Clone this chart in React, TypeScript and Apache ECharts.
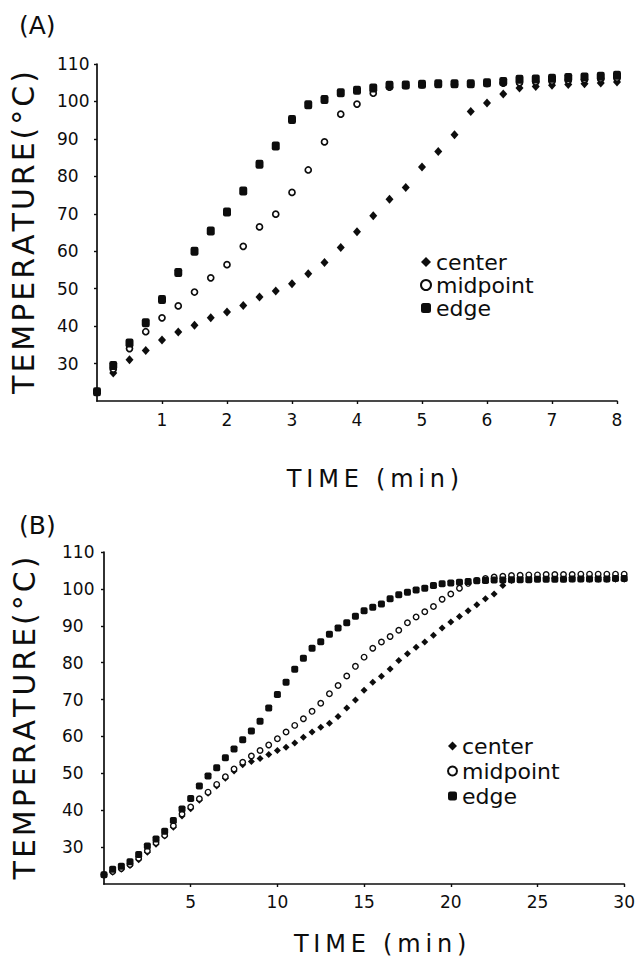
import React, { useEffect, useRef } from 'react';
import * as echarts from 'echarts';

// ---------- Panel (A) : 0–8 min, every 0.25 min ----------
const timeA = [0, 0.25, 0.5, 0.75, 1, 1.25, 1.5, 1.75, 2, 2.25, 2.5, 2.75, 3, 3.25, 3.5, 3.75, 4,
  4.25, 4.5, 4.75, 5, 5.25, 5.5, 5.75, 6, 6.25, 6.5, 6.75, 7, 7.25, 7.5, 7.75, 8];
const centerA = [22.5, 27.5, 31.0, 33.5, 36.3, 38.4, 40.2, 42.2, 43.8, 45.5, 47.8, 49.4, 51.3, 54.0, 57.0, 61.0, 65.2,
  69.5, 73.9, 77.0, 82.5, 86.6, 91.1, 97.3, 99.6, 102.0, 103.6, 104.0, 104.3, 104.5, 104.7, 104.9, 105.2];
const midpointA = [22.5, 28.5, 34.0, 38.5, 42.2, 45.4, 49.1, 52.9, 56.4, 61.3, 66.5, 69.9, 75.7, 81.7, 89.2, 96.6, 99.3,
  102.2, 103.8, 104.3, 104.5, 104.6, 104.6, 104.7, 104.8, 104.9, 105.0, 105.2, 105.4, 105.6, 105.8, 106.0, 106.2];
const edgeA = [22.5, 29.5, 35.5, 40.9, 47.1, 54.3, 60.0, 65.4, 70.5, 76.1, 83.2, 88.1, 95.2, 99.1, 100.5, 102.3, 103.0,
  103.6, 104.3, 104.4, 104.6, 104.7, 104.7, 104.7, 105.0, 105.3, 105.9, 106.0, 106.2, 106.4, 106.5, 106.7, 107.0];

// ---------- Panel (B) : 0–30 min, every 0.5 min ----------
const timeB = [0, 0.5, 1, 1.5, 2, 2.5, 3, 3.5, 4, 4.5, 5, 5.5, 6, 6.5, 7, 7.5, 8, 8.5, 9, 9.5, 10,
  10.5, 11, 11.5, 12, 12.5, 13, 13.5, 14, 14.5, 15, 15.5, 16, 16.5, 17, 17.5, 18, 18.5, 19, 19.5, 20,
  20.5, 21, 21.5, 22, 22.5, 23, 23.5, 24, 24.5, 25, 25.5, 26, 26.5, 27, 27.5, 28, 28.5, 29, 29.5, 30];
const centerB = [22.5, 23.2, 24.0, 25.0, 26.6, 28.6, 30.8, 33.0, 35.4, 38.4, 40.4, 42.7, 44.6, 46.6, 48.7, 50.6, 52.3, 53.2, 54.0, 55.1, 56.2,
  57.1, 58.2, 59.8, 61.2, 62.5, 63.6, 65.4, 67.7, 69.9, 72.5, 74.7, 76.3, 78.3, 80.6, 82.4, 84.2, 85.6, 87.4, 89.4, 91.0,
  92.5, 94.1, 95.7, 97.3, 98.6, 100.9, 102.3, 103.0, 103.2, 103.1, 102.9, 102.8, 102.7, 102.7, 102.7, 102.6, 102.6, 102.6, 102.6, 102.6];
const midpointB = [22.5, 23.4, 24.2, 25.3, 27.0, 29.0, 31.2, 33.2, 35.8, 39.0, 40.9, 43.1, 44.9, 47.0, 49.1, 51.2, 53.0, 54.7, 56.2, 57.7, 59.4,
  61.2, 63.0, 64.8, 66.8, 69.0, 71.6, 73.8, 76.4, 79.0, 81.5, 83.9, 85.6, 87.1, 88.8, 90.8, 92.4, 93.8, 95.2, 97.2, 98.6,
  100.2, 101.5, 102.3, 102.8, 103.2, 103.4, 103.6, 103.7, 103.8, 103.8, 103.9, 103.9, 103.9, 103.9, 104.0, 104.0, 104.0, 104.0, 104.0, 104.0];
const edgeB = [22.5, 24.0, 24.8, 26.0, 28.0, 30.3, 32.2, 34.3, 37.2, 40.3, 43.2, 46.6, 49.3, 51.5, 54.2, 56.6, 59.1, 61.5, 64.1, 67.7, 71.4,
  74.7, 78.2, 81.2, 83.9, 85.7, 87.7, 89.4, 90.8, 92.6, 94.1, 95.0, 95.9, 97.3, 98.4, 99.1, 99.7, 100.2, 100.9, 101.4, 101.6,
  101.8, 102.0, 102.2, 102.3, 102.4, 102.4, 102.5, 102.5, 102.5, 102.6, 102.6, 102.6, 102.6, 102.7, 102.7, 102.7, 102.7, 102.7, 102.8, 102.8];

const seriesNames = ['center', 'midpoint', 'edge'];
const panelTitles = ['(A)', '(B)'];
const xAxisTitle = 'TIME (min)';
const yAxisTitle = 'TEMPERATURE(°C)';

const INK = '#0d0d0d';
const FONT = 'DejaVu Sans';

const spaced = (s: string, sep: string) => s.split('').join(sep);
const pairs = (t: number[], v: number[]) => t.map((x, i) => [x, v[i]]);

export default function App() {
  const ref = useRef<HTMLDivElement>(null);

  useEffect(() => {
    if (!ref.current) return;
    const chart = echarts.init(ref.current, null, { renderer: 'svg' });

    const axisLine = { show: true, lineStyle: { color: INK, width: 1.7 } };
    const axisTick = { show: true, length: 3, lineStyle: { color: INK, width: 1.4 } };
    const tickLabel = { color: INK, fontFamily: FONT, fontSize: 17 };

    const yAxisCommon = {
      type: 'value',
      min: 20,
      max: 110,
      interval: 10,
      splitLine: { show: false },
      axisLine,
      axisTick,
      name: spaced(yAxisTitle, '\u200A'),
      nameLocation: 'middle',
      nameRotate: 90,
      nameTextStyle: { color: INK, fontFamily: FONT, fontSize: 30 },
      axisLabel: { ...tickLabel, align: 'left', showMinLabel: false },
    };

    const xName = spaced(xAxisTitle, '\u2009');
    const xNameStyle = { color: INK, fontFamily: FONT, fontSize: 24, padding: [0, 0, 0, 32] };

    const centerStyle = { color: INK, opacity: 1 };
    const midStyle = { color: '#fff', borderColor: INK, borderWidth: 1.7, opacity: 1 };
    const edgeStyle = { color: INK, opacity: 1 };
    const legendText = { color: INK, fontFamily: FONT, fontSize: 22 };

    chart.setOption({
      animation: false,
      backgroundColor: '#fff',
      title: [
        { text: panelTitles[0], left: 14, top: 8, textStyle: { color: INK, fontFamily: FONT, fontSize: 25, fontWeight: 'normal' } },
        { text: panelTitles[1], left: 14, top: 508, textStyle: { color: INK, fontFamily: FONT, fontSize: 25, fontWeight: 'normal' } },
      ],
      grid: [
        { left: 97, top: 64, width: 520, height: 337 },
        { left: 104, top: 552, width: 521, height: 332 },
      ],
      legend: [
        {
          data: seriesNames, orient: 'vertical', left: 420, top: 251, itemGap: 1, padding: 0,
          itemWidth: 10, itemHeight: 10, textStyle: legendText,
        },
        {
          data: seriesNames, orient: 'vertical', left: 447, top: 735, itemGap: 3, padding: 0,
          itemWidth: 9, itemHeight: 9, textStyle: legendText,
        },
      ],
      xAxis: [
        {
          gridIndex: 0, type: 'value', min: 0, max: 8, interval: 1,
          splitLine: { show: false }, axisLine, axisTick,
          axisLabel: { ...tickLabel, margin: 10, showMinLabel: false },
          name: xName, nameLocation: 'middle', nameGap: 66, nameTextStyle: xNameStyle,
        },
        {
          gridIndex: 1, type: 'value', min: 0, max: 30, interval: 5,
          splitLine: { show: false }, axisLine, axisTick,
          axisLabel: { ...tickLabel, margin: 9, showMinLabel: false },
          name: xName, nameLocation: 'middle', nameGap: 48, nameTextStyle: xNameStyle,
        },
      ],
      yAxis: [
        { ...yAxisCommon, gridIndex: 0, nameGap: 59, axisLabel: { ...yAxisCommon.axisLabel, margin: 40 } },
        { ...yAxisCommon, gridIndex: 1, offset: 3, nameGap: 62, axisLabel: { ...yAxisCommon.axisLabel, margin: 39 } },
      ],
      series: [
        { name: seriesNames[0], type: 'scatter', xAxisIndex: 0, yAxisIndex: 0, symbol: 'diamond', symbolSize: [8, 9], itemStyle: centerStyle, data: pairs(timeA, centerA) },
        { name: seriesNames[1], type: 'scatter', xAxisIndex: 0, yAxisIndex: 0, symbol: 'circle', symbolSize: 6, itemStyle: midStyle, data: pairs(timeA, midpointA) },
        { name: seriesNames[2], type: 'scatter', xAxisIndex: 0, yAxisIndex: 0, symbol: 'roundRect', symbolSize: [8, 9], itemStyle: edgeStyle, data: pairs(timeA, edgeA) },
        { name: seriesNames[0], type: 'scatter', xAxisIndex: 1, yAxisIndex: 1, symbol: 'diamond', symbolSize: [7, 7], itemStyle: centerStyle, data: pairs(timeB, centerB) },
        { name: seriesNames[1], type: 'scatter', xAxisIndex: 1, yAxisIndex: 1, symbol: 'circle', symbolSize: 5.5, itemStyle: { ...midStyle, borderWidth: 1.4 }, data: pairs(timeB, midpointB) },
        { name: seriesNames[2], type: 'scatter', xAxisIndex: 1, yAxisIndex: 1, symbol: 'roundRect', symbolSize: [7, 7], itemStyle: edgeStyle, data: pairs(timeB, edgeB) },
      ],
    });

    return () => chart.dispose();
  }, []);

  return (
    <div
      ref={ref}
      style={{ position: 'absolute', left: 0, top: 0, width: 638, height: 966, background: '#fff' }}
    />
  );
}
